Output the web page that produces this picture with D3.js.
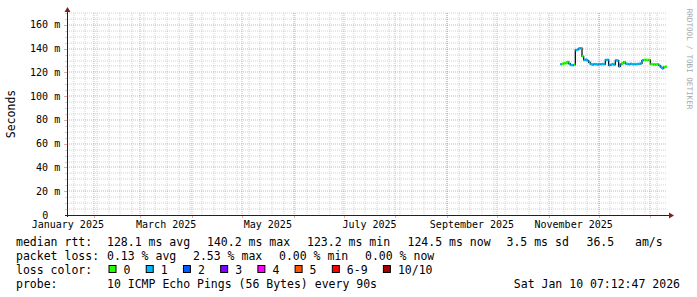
<!DOCTYPE html>
<html>
<head>
<meta charset="utf-8">
<script src="https://cdn.jsdelivr.net/npm/d3@7"></script>
<style>
  body { margin: 0; background: #fff; }
  svg { display: block; font-family: "DejaVu Sans Mono", monospace; }
</style>
</head>
<body>
<div id="chart"></div>
<script>
// median rtt in ms, one value per day starting at rttStart
var rttStart = "2025-11-08";
var rttValues = [126.9, 127.3, 127.7, 127.8, 128.8, 127.4, 126.3, 126.0, 126.6, 138.9,
  139.2, 140.2, 140.4, 133.5, 130.5, 130.8, 130.0, 128.4, 127.0, 126.5,
  127.0, 126.9, 126.6, 127.1, 126.8, 127.0, 126.9, 130.5, 130.6, 126.0,
  126.5, 127.0, 126.5, 130.2, 130.0, 125.0, 126.9, 127.8, 128.6, 127.3,
  127.0, 126.8, 127.2, 126.9, 127.1, 126.8, 127.0, 127.2, 127.6, 130.2,
  130.5, 130.6, 130.4, 130.5, 127.0, 126.7, 126.8, 126.6, 126.9, 125.8,
  124.5, 123.3, 124.5, 124.8];
// lost pings (of 10) for the same days
var lossValues = [1, 0, 0, 0, 0, 1, 1, 1, 0, 1,
  1, 1, 1, 0, 1, 1, 1, 1, 1, 1,
  1, 1, 1, 1, 1, 1, 1, 1, 1, 1,
  1, 1, 1, 1, 1, 1, 1, 0, 0, 1,
  1, 1, 1, 1, 1, 1, 1, 1, 1, 1,
  0, 0, 0, 0, 0, 0, 0, 0, 0, 1,
  1, 1, 0, 0];

var timeRange = ["2025-01-16", "2026-01-11"];
var yMax = 170;
var yTicks = [0, 20, 40, 60, 80, 100, 120, 140, 160];
var labelMonths = ["2025-01-01", "2025-03-01", "2025-05-01", "2025-07-01", "2025-09-01", "2025-11-01"];

var rttStats = ["128.1 ms avg", "140.2 ms max", "123.2 ms min", "124.5 ms now", "3.5 ms sd", "36.5", "am/s"];
var lossStats = ["0.13 % avg", "2.53 % max", "0.00 % min", "0.00 % now"];
var lossNames = ["0", "1", "2", "3", "4", "5", "6-9", "10/10"];
var lossColors = ["#26ff00", "#00b8ff", "#0059ff", "#7e00ff", "#ff00ff", "#ff5500", "#ff0000", "#a10000"];
var probeText = "10 ICMP Echo Pings (56 Bytes) every 90s";
var stampText = "Sat Jan 10 07:12:47 2026";

var svgWidth = 697, svgHeight = 297;
var plotLeft = 67, plotRight = 667, plotTop = 13, plotBottom = 215;
var gridGray = "rgba(143,143,143,0.42)";
var gridRed = "rgba(222,79,79,0.5)";

var svg = d3.select("#chart").append("svg")
  .attr("width", svgWidth)
  .attr("height", svgHeight);

var parse = d3.utcParse("%Y-%m-%d");
var xScale = d3.scaleUtc()
  .domain(timeRange.map(parse))
  .range([plotLeft, plotRight]);
var yScale = d3.scaleLinear()
  .domain([0, yMax])
  .range([plotBottom, plotTop]);

// minor grid
var weeks = d3.utcMonday.range(xScale.domain()[0], xScale.domain()[1]);
var months = d3.utcMonth.range(xScale.domain()[0], xScale.domain()[1]);
var minorY = d3.range(5, yMax + 1, 5).filter(d => d % 20 != 0);

var grid = svg.append("g");
grid.selectAll(".vminor").data(weeks).enter().append("line")
  .attr("x1", d => Math.round(xScale(d))).attr("x2", d => Math.round(xScale(d)))
  .attr("y1", plotTop).attr("y2", plotBottom)
  .attr("stroke", gridGray).attr("stroke-dasharray", "1,1");
grid.selectAll(".hminor").data(minorY).enter().append("line")
  .attr("x1", plotLeft).attr("x2", plotRight)
  .attr("y1", d => Math.round(yScale(d))).attr("y2", d => Math.round(yScale(d)))
  .attr("stroke", gridGray).attr("stroke-dasharray", "1,1");
grid.selectAll(".hminortick").data(minorY).enter().append("line")
  .attr("x1", plotLeft - 2).attr("x2", plotLeft)
  .attr("y1", d => Math.round(yScale(d)) + 0.5).attr("y2", d => Math.round(yScale(d)) + 0.5)
  .attr("stroke", gridGray);

// major grid
grid.selectAll(".vmajor").data(months).enter().append("line")
  .attr("x1", d => Math.round(xScale(d))).attr("x2", d => Math.round(xScale(d)))
  .attr("y1", plotTop).attr("y2", plotBottom)
  .attr("stroke", gridRed).attr("stroke-dasharray", "1,1");
grid.selectAll(".vmajortick").data(months).enter().append("line")
  .attr("x1", d => Math.round(xScale(d)) + 0.5).attr("x2", d => Math.round(xScale(d)) + 0.5)
  .attr("y1", plotBottom).attr("y2", plotBottom + 3)
  .attr("stroke", gridRed);
grid.selectAll(".hmajor").data(yTicks.slice(1)).enter().append("line")
  .attr("x1", plotLeft).attr("x2", plotRight)
  .attr("y1", d => Math.round(yScale(d))).attr("y2", d => Math.round(yScale(d)))
  .attr("stroke", gridRed).attr("stroke-dasharray", "1,1");
grid.selectAll(".hmajortick").data(yTicks.slice(1)).enter().append("line")
  .attr("x1", plotLeft - 3).attr("x2", plotLeft)
  .attr("y1", d => Math.round(yScale(d)) + 0.5).attr("y2", d => Math.round(yScale(d)) + 0.5)
  .attr("stroke", gridRed);

// data
var day0 = parse(rttStart);
var points = rttValues.map((v, i) => ({
  t0: d3.utcDay.offset(day0, i),
  t1: d3.utcDay.offset(day0, i + 1),
  v: v,
  loss: lossValues[i]
}));

var stepLine = d3.line()
  .x(d => xScale(d.t))
  .y(d => yScale(d.v))
  .curve(d3.curveStepAfter);
var stepData = points.map(p => ({ t: p.t0, v: p.v }));
stepData.push({ t: points[points.length - 1].t1, v: points[points.length - 1].v });

svg.append("path")
  .attr("d", stepLine(stepData))
  .attr("fill", "none")
  .attr("stroke", "#000")
  .attr("stroke-width", 1.2);

svg.append("g").selectAll("line").data(points).enter().append("line")
  .attr("x1", d => xScale(d.t0))
  .attr("x2", d => Math.min(xScale(d.t1), plotRight))
  .attr("y1", d => yScale(d.v))
  .attr("y2", d => yScale(d.v))
  .attr("stroke", d => lossColors[Math.min(d.loss, 7)])
  .attr("stroke-width", 2.5);

// axes
var axisColor = "#202020";
var arrowColor = "#7f1f1f";
svg.append("line")
  .attr("x1", plotLeft - 2).attr("x2", plotRight + 2)
  .attr("y1", plotBottom + 0.5).attr("y2", plotBottom + 0.5)
  .attr("stroke", axisColor);
svg.append("line")
  .attr("x1", plotLeft + 0.5).attr("x2", plotLeft + 0.5)
  .attr("y1", plotBottom + 2).attr("y2", plotTop - 1)
  .attr("stroke", axisColor);
svg.append("path")
  .attr("d", `M${plotRight + 2},${plotBottom - 2.5}L${plotRight + 7},${plotBottom + 0.5}L${plotRight + 2},${plotBottom + 3.5}Z`)
  .attr("fill", arrowColor);
svg.append("path")
  .attr("d", `M${plotLeft - 2.5},${plotTop - 1}L${plotLeft + 0.5},${plotTop - 6}L${plotLeft + 3.5},${plotTop - 1}Z`)
  .attr("fill", arrowColor);

// y labels
var yLabels = svg.append("g").attr("font-size", 10).attr("fill", "#000");
yLabels.selectAll("text").data(yTicks).enter().append("text")
  .attr("x", d => d == 0 ? 48.2 : 60.2)
  .attr("y", d => yScale(d) + 3.5)
  .attr("text-anchor", "end")
  .text(d => d == 0 ? "0" : d + " m");

// x labels, centered in the middle of the month
var fmt = d3.utcFormat("%B %Y");
svg.append("g").attr("font-size", 10).selectAll("text")
  .data(labelMonths.map(parse)).enter().append("text")
  .attr("x", d => (xScale(d) + xScale(d3.utcMonth.offset(d, 1))) / 2)
  .attr("y", 228)
  .attr("text-anchor", "middle")
  .text(d => fmt(d));

svg.append("text")
  .attr("transform", "translate(14.5,114) rotate(-90)")
  .attr("text-anchor", "middle")
  .attr("font-size", 11.5)
  .text("Seconds");

svg.append("text")
  .attr("transform", "translate(686.5,59) rotate(90)")
  .attr("text-anchor", "middle")
  .attr("font-size", 7.6)
  .attr("fill", "#a8a8a8")
  .text("RRDTOOL / TOBI OETIKER");

// legend
var legend = svg.append("g").attr("font-size", 11.5).attr("fill", "#000")
  .style("white-space", "pre");
var rowY = [245.5, 259.5, 273.5, 287.5];
var rttX = [107, 207, 307, 407.5, 506.5, 586.5, 635];
var lossX = [107, 193, 279, 365];

legend.append("text").attr("x", 16).attr("y", rowY[0]).text("median rtt:");
legend.selectAll(".rtt").data(rttStats).enter().append("text")
  .attr("x", (d, i) => rttX[i]).attr("y", rowY[0]).text(d => d);

legend.append("text").attr("x", 16).attr("y", rowY[1]).text("packet loss:");
legend.selectAll(".loss").data(lossStats).enter().append("text")
  .attr("x", (d, i) => lossX[i]).attr("y", rowY[1]).text(d => d);

legend.append("text").attr("x", 16).attr("y", rowY[2]).text("loss color:");
var charW = 6.92;
var boxX = [];
var bx = 108.5;
lossNames.forEach(function (n) {
  boxX.push(bx);
  bx += 15 + n.length * charW + 15.3;
});
legend.selectAll(".box").data(lossNames).enter().append("rect")
  .attr("x", (d, i) => boxX[i] + 0.5).attr("y", 265.5)
  .attr("width", 7).attr("height", 7)
  .attr("fill", (d, i) => lossColors[i])
  .attr("stroke", "#000");
legend.selectAll(".boxlabel").data(lossNames).enter().append("text")
  .attr("x", (d, i) => boxX[i] + 15).attr("y", rowY[2]).text(d => d);

legend.append("text").attr("x", 16).attr("y", rowY[3]).text("probe:");
legend.append("text").attr("x", 107).attr("y", rowY[3]).text(probeText);
legend.append("text").attr("x", 680).attr("y", rowY[3])
  .attr("text-anchor", "end").text(stampText);
</script>
</body>
</html>
